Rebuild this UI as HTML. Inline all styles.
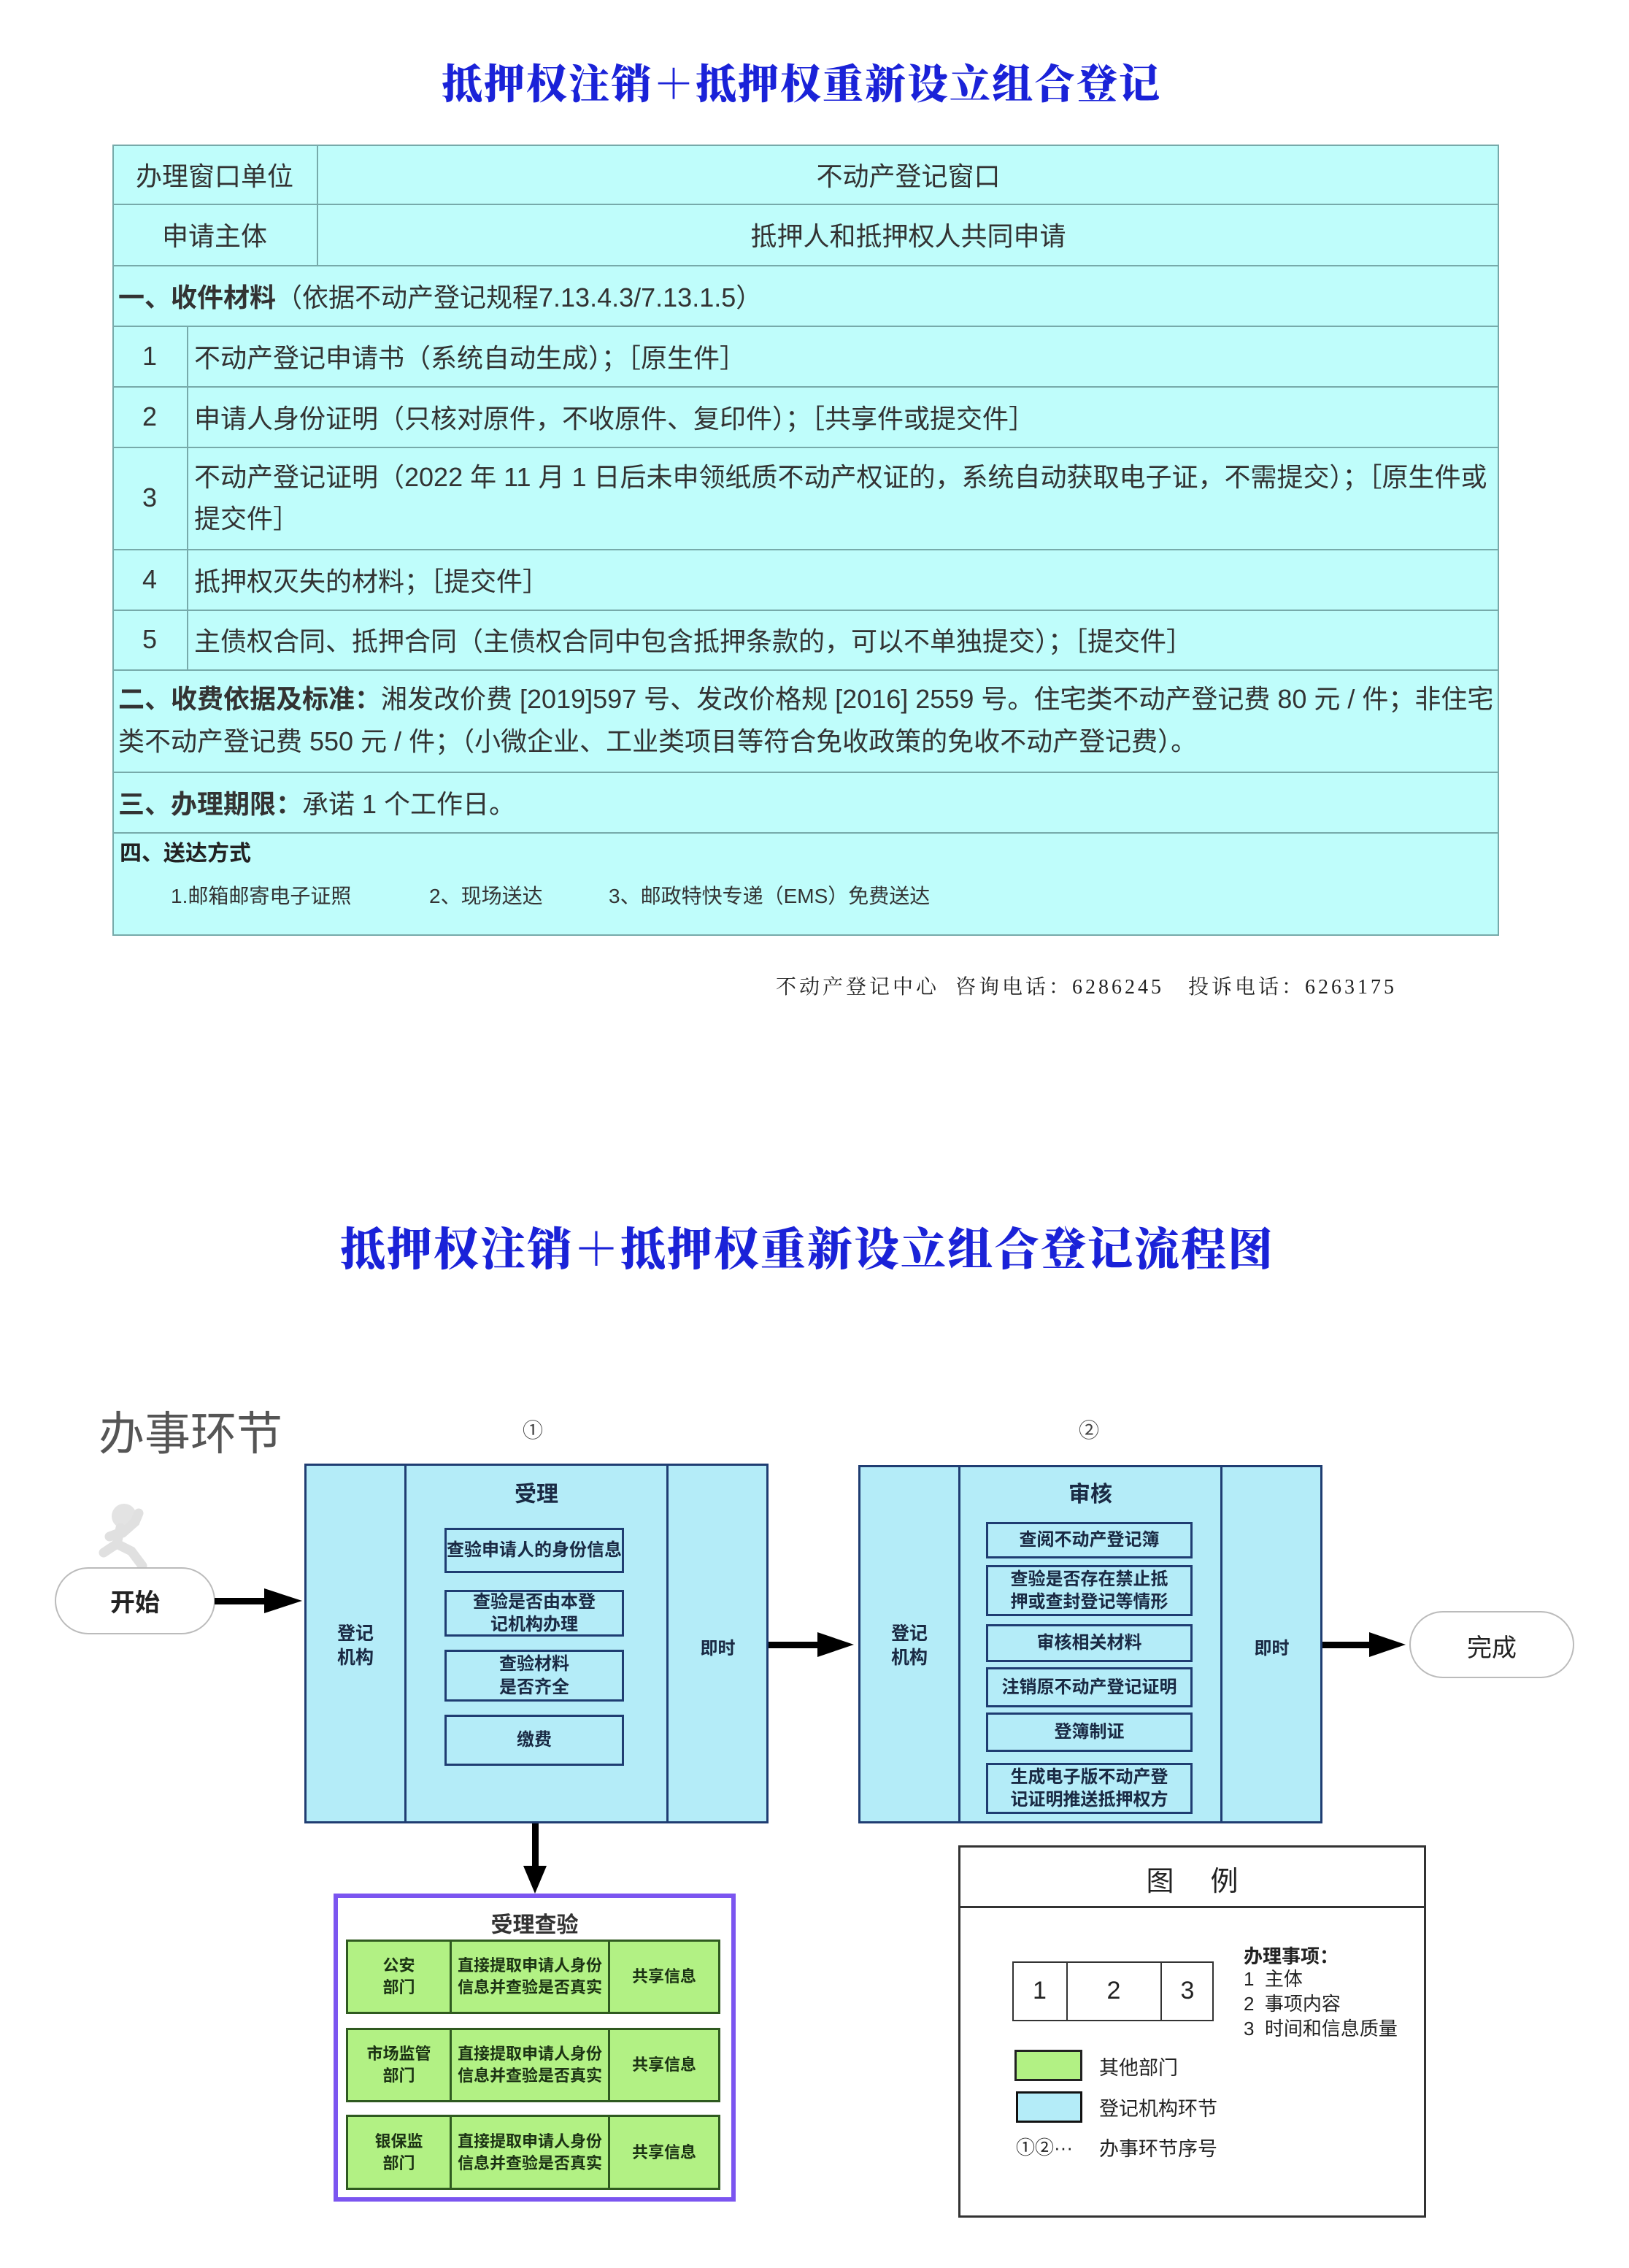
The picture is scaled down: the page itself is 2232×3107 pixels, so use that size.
<!DOCTYPE html>
<html><head><meta charset="utf-8"><style>
*{margin:0;padding:0;box-sizing:border-box}
body{width:2232px;height:3107px;background:#fff;position:relative;overflow:hidden;font-family:"Liberation Sans","Noto Sans CJK SC",sans-serif;color:#222}
.a{position:absolute}
.t{position:absolute;white-space:nowrap}
.title{font-family:"Liberation Serif","Noto Serif CJK SC",serif;font-weight:900;color:#1a22d8;letter-spacing:2px;text-align:center;width:2232px;left:0}
.tb{position:absolute;left:154px;width:1900px;background:#bffdfb;border:2px solid #7aa;}
.cell{position:absolute;font-size:36px;color:#333;white-space:nowrap;display:flex;align-items:center}
.hl{position:absolute;left:154px;width:1900px;height:2px;background:#7aa}
.vl{position:absolute;width:2px;background:#7aa}
.blue{position:absolute;background:#b4ecf8;border:3px solid #1f3d72}
.sb{position:absolute;border:3px solid #1f3d72;background:#b4ecf8;font-weight:bold;font-size:24px;color:#1a2a44;text-align:center;display:flex;align-items:center;justify-content:center;line-height:1.3}
.g{position:absolute;background:#b2f184;border:3px solid #2f5a20;font-weight:bold;font-size:22px;color:#1c3314;text-align:center;display:flex;align-items:center;justify-content:center;line-height:1.35}
</style></head><body>

<div class="t title" style="top:72px;font-size:56px;left:-18px">抵押权注销＋抵押权重新设立组合登记</div>

<!-- table -->
<div class="tb" style="top:198px;height:1084px"></div>
<div class="hl" style="top:279px"></div>
<div class="hl" style="top:363px"></div>
<div class="hl" style="top:446px"></div>
<div class="hl" style="top:529px"></div>
<div class="hl" style="top:612px"></div>
<div class="hl" style="top:752px"></div>
<div class="hl" style="top:835px"></div>
<div class="hl" style="top:917px"></div>
<div class="hl" style="top:1057px"></div>
<div class="hl" style="top:1140px"></div>
<div class="vl" style="left:434px;top:198px;height:165px"></div>
<div class="vl" style="left:256px;top:446px;height:471px"></div>

<div class="cell" style="left:154px;width:280px;top:198px;height:81px;justify-content:center">办理窗口单位</div>
<div class="cell" style="left:436px;width:1617px;top:198px;height:81px;justify-content:center">不动产登记窗口</div>
<div class="cell" style="left:154px;width:280px;top:279px;height:84px;justify-content:center">申请主体</div>
<div class="cell" style="left:436px;width:1617px;top:279px;height:84px;justify-content:center">抵押人和抵押权人共同申请</div>
<div class="cell" style="left:162px;top:363px;height:83px"><b>一、收件材料</b>（依据不动产登记规程7.13.4.3/7.13.1.5）</div>
<div class="cell" style="left:154px;width:102px;top:446px;height:83px;justify-content:center">1</div>
<div class="cell" style="left:266px;top:446px;height:83px">不动产登记申请书（系统自动生成）；［原生件］</div>
<div class="cell" style="left:154px;width:102px;top:529px;height:83px;justify-content:center">2</div>
<div class="cell" style="left:266px;top:529px;height:83px">申请人身份证明（只核对原件，不收原件、复印件）；［共享件或提交件］</div>
<div class="cell" style="left:154px;width:102px;top:612px;height:140px;justify-content:center">3</div>
<div class="cell" style="left:266px;top:612px;height:140px;line-height:57px">不动产登记证明（2022 年 11 月 1 日后未申领纸质不动产权证的，系统自动获取电子证，不需提交）；［原生件或<br>提交件］</div>
<div class="cell" style="left:154px;width:102px;top:752px;height:83px;justify-content:center">4</div>
<div class="cell" style="left:266px;top:752px;height:83px">抵押权灭失的材料；［提交件］</div>
<div class="cell" style="left:154px;width:102px;top:835px;height:82px;justify-content:center">5</div>
<div class="cell" style="left:266px;top:835px;height:82px">主债权合同、抵押合同（主债权合同中包含抵押条款的，可以不单独提交）；［提交件］</div>
<div class="cell" style="left:162px;top:917px;height:140px;line-height:58px"><span><b>二、收费依据及标准：</b>湘发改价费 [2019]597 号、发改价格规 [2016] 2559 号。住宅类不动产登记费 80 元 / 件；非住宅<br>类不动产登记费 550 元 / 件；（小微企业、工业类项目等符合免收政策的免收不动产登记费）。</span></div>
<div class="cell" style="left:162px;top:1057px;height:83px"><b>三、办理期限：</b>承诺 1 个工作日。</div>
<div class="t" style="left:164px;top:1144px;font-size:30px;font-weight:bold;color:#222">四、送达方式</div>
<div class="t" style="left:234px;top:1206px;font-size:28px;color:#333">1.邮箱邮寄电子证照</div>
<div class="t" style="left:588px;top:1206px;font-size:28px;color:#333">2、现场送达</div>
<div class="t" style="left:834px;top:1206px;font-size:28px;color:#333">3、邮政特快专递（EMS）免费送达</div>

<div class="t" style="left:1063px;top:1330px;font-family:'Liberation Serif','Noto Serif CJK SC',serif;font-size:28px;letter-spacing:4px;color:#222">不动产登记中心&nbsp;&nbsp;咨询电话：6286245&nbsp;&nbsp;&nbsp;投诉电话：6263175</div>

<!-- flowchart -->
<div class="t title" style="top:1662px;font-size:62px;left:-10px">抵押权注销＋抵押权重新设立组合登记流程图</div>
<div class="t" style="left:135px;top:1914px;font-size:63px;color:#555">办事环节</div>
<div class="t" style="left:716px;top:1938px;font-size:28px;color:#444">①</div>
<div class="t" style="left:1478px;top:1938px;font-size:28px;color:#444">②</div>

<!-- runner -->
<svg class="a" style="left:130px;top:2055px" width="110" height="95">
<circle cx="40" cy="22" r="17" fill="#e3e3e3"/>
<path d="M35 38 L30 60 L12 72 M30 60 L50 70 L65 90 M38 45 L55 30 L60 18 M36 44 L20 50" stroke="#e0e0e0" stroke-width="13" fill="none" stroke-linecap="round"/>
</svg>

<div class="a" style="left:75px;top:2147px;width:220px;height:92px;border:2px solid #bbb;border-radius:46px;background:#fff"></div>
<div class="t" style="left:75px;top:2168px;width:220px;text-align:center;font-size:34px;font-weight:bold;color:#222">开始</div>
<div class="a" style="left:1931px;top:2207px;width:226px;height:92px;border:2px solid #bbb;border-radius:46px;background:#fff"></div>
<div class="t" style="left:1931px;top:2230px;width:226px;text-align:center;font-size:34px;color:#222">完成</div>

<svg class="a" style="left:0;top:0" width="2232" height="3107">
<g fill="#000">
<rect x="294" y="2189" width="75" height="9"/><polygon points="362,2176 414,2193 362,2210"/>
<rect x="1051" y="2249" width="75" height="9"/><polygon points="1120,2236 1170,2253 1120,2270"/>
<rect x="1810" y="2249" width="70" height="9"/><polygon points="1876,2236 1926,2253 1876,2270"/>
<rect x="729" y="2498" width="9" height="62"/><polygon points="717,2556 733,2594 749,2556"/>
</g>
</svg>

<!-- box1 -->
<div class="blue" style="left:417px;top:2005px;width:636px;height:493px"></div>
<div class="a" style="left:554px;top:2005px;width:3px;height:493px;background:#1f3d72"></div>
<div class="a" style="left:913px;top:2005px;width:3px;height:493px;background:#1f3d72"></div>
<div class="t" style="left:557px;top:2022px;width:356px;text-align:center;font-size:30px;font-weight:bold;color:#1a2a44">受理</div>
<div class="t" style="left:420px;top:2222px;width:134px;text-align:center;font-size:25px;font-weight:bold;color:#1a2a44;line-height:1.3;white-space:normal">登记<br>机构</div>
<div class="t" style="left:916px;top:2238px;width:135px;text-align:center;font-size:24px;font-weight:bold;color:#1a2a44">即时</div>
<div class="sb" style="left:609px;top:2093px;width:246px;height:62px">查验申请人的身份信息</div>
<div class="sb" style="left:609px;top:2178px;width:246px;height:64px">查验是否由本登<br>记机构办理</div>
<div class="sb" style="left:609px;top:2260px;width:246px;height:71px">查验材料<br>是否齐全</div>
<div class="sb" style="left:609px;top:2349px;width:246px;height:70px">缴费</div>

<!-- box2 -->
<div class="blue" style="left:1176px;top:2007px;width:636px;height:491px"></div>
<div class="a" style="left:1313px;top:2007px;width:3px;height:491px;background:#1f3d72"></div>
<div class="a" style="left:1672px;top:2007px;width:3px;height:491px;background:#1f3d72"></div>
<div class="t" style="left:1316px;top:2022px;width:356px;text-align:center;font-size:30px;font-weight:bold;color:#1a2a44">审核</div>
<div class="t" style="left:1179px;top:2222px;width:134px;text-align:center;font-size:25px;font-weight:bold;color:#1a2a44;line-height:1.3;white-space:normal">登记<br>机构</div>
<div class="t" style="left:1675px;top:2238px;width:135px;text-align:center;font-size:24px;font-weight:bold;color:#1a2a44">即时</div>
<div class="sb" style="left:1351px;top:2085px;width:283px;height:50px">查阅不动产登记簿</div>
<div class="sb" style="left:1351px;top:2144px;width:283px;height:70px">查验是否存在禁止抵<br>押或查封登记等情形</div>
<div class="sb" style="left:1351px;top:2225px;width:283px;height:52px">审核相关材料</div>
<div class="sb" style="left:1351px;top:2284px;width:283px;height:55px">注销原不动产登记证明</div>
<div class="sb" style="left:1351px;top:2346px;width:283px;height:54px">登簿制证</div>
<div class="sb" style="left:1351px;top:2415px;width:283px;height:70px">生成电子版不动产登<br>记证明推送抵押权方</div>

<!-- purple -->
<div class="a" style="left:457px;top:2594px;width:551px;height:422px;border:6px solid #7b55f0;background:#fff"></div>
<div class="t" style="left:457px;top:2612px;width:551px;text-align:center;font-size:30px;font-weight:bold;color:#333">受理查验</div>
<div class="g" style="left:474px;top:2657px;width:145px;height:102px">公安<br>部门</div>
<div class="g" style="left:616px;top:2657px;width:220px;height:102px">直接提取申请人身份<br>信息并查验是否真实</div>
<div class="g" style="left:833px;top:2657px;width:154px;height:102px">共享信息</div>
<div class="g" style="left:474px;top:2778px;width:145px;height:102px">市场监管<br>部门</div>
<div class="g" style="left:616px;top:2778px;width:220px;height:102px">直接提取申请人身份<br>信息并查验是否真实</div>
<div class="g" style="left:833px;top:2778px;width:154px;height:102px">共享信息</div>
<div class="g" style="left:474px;top:2897px;width:145px;height:103px">银保监<br>部门</div>
<div class="g" style="left:616px;top:2897px;width:220px;height:103px">直接提取申请人身份<br>信息并查验是否真实</div>
<div class="g" style="left:833px;top:2897px;width:154px;height:103px">共享信息</div>

<!-- legend -->
<div class="a" style="left:1313px;top:2528px;width:641px;height:510px;border:3px solid #333;background:#fff"></div>
<div class="a" style="left:1313px;top:2611px;width:641px;height:3px;background:#333"></div>
<div class="t" style="left:1313px;top:2546px;width:641px;text-align:center;font-size:38px;color:#222;letter-spacing:50px;padding-left:50px">图例</div>
<div class="a" style="left:1387px;top:2687px;width:276px;height:82px;border:2px solid #333"></div>
<div class="a" style="left:1461px;top:2687px;width:2px;height:82px;background:#333"></div>
<div class="a" style="left:1590px;top:2687px;width:2px;height:82px;background:#333"></div>
<div class="t" style="left:1387px;top:2708px;width:75px;text-align:center;font-size:34px">1</div>
<div class="t" style="left:1462px;top:2708px;width:128px;text-align:center;font-size:34px">2</div>
<div class="t" style="left:1591px;top:2708px;width:72px;text-align:center;font-size:34px">3</div>
<div class="t" style="left:1704px;top:2660px;font-size:26px;font-weight:bold;color:#222">办理事项：</div>
<div class="t" style="left:1704px;top:2694px;font-size:26px;color:#222;line-height:34px">1&nbsp; 主体<br>2&nbsp; 事项内容<br>3&nbsp; 时间和信息质量</div>
<div class="a" style="left:1390px;top:2808px;width:93px;height:43px;background:#b2f184;border:3px solid #222"></div>
<div class="a" style="left:1392px;top:2865px;width:91px;height:43px;background:#b4ecf8;border:3px solid #111"></div>
<div class="t" style="left:1506px;top:2811px;font-size:27px;color:#222">其他部门</div>
<div class="t" style="left:1506px;top:2867px;font-size:27px;color:#222">登记机构环节</div>
<div class="t" style="left:1392px;top:2922px;font-size:26px;color:#222">①②···</div>
<div class="t" style="left:1506px;top:2922px;font-size:27px;color:#222">办事环节序号</div>
</body></html>
